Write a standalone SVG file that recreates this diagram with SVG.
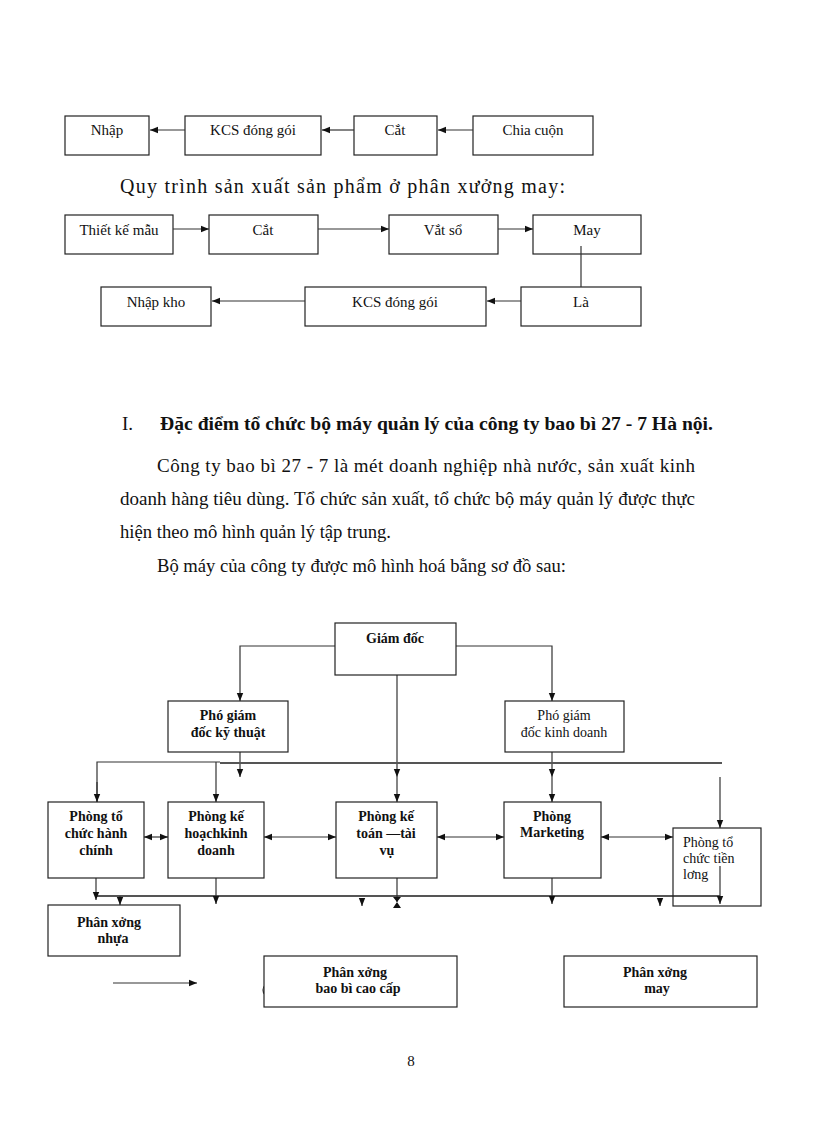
<svg xmlns="http://www.w3.org/2000/svg" width="816" height="1123" viewBox="0 0 816 1123">
<style>
.bx{fill:#fff;stroke:#222;stroke-width:1.2}
.t{font-family:"Liberation Serif",serif;fill:#111}
.f{font-size:15px}
.o{font-size:14px}
.b{font-weight:bold}
.c{text-anchor:middle}
.ln{fill:none;stroke:#333;stroke-width:1.2}
.bus{fill:none;stroke:#555;stroke-width:2.2}
.p{font-size:19px}
</style>
<defs>
<marker id="ah" viewBox="0 0 10 10" refX="10" refY="5" markerWidth="8" markerHeight="8" markerUnits="userSpaceOnUse" orient="auto-start-reverse"><path d="M0,1 L10,5 L0,9 Z" fill="#111"/></marker>
</defs>
<rect width="816" height="1123" fill="#fff"/>

<!-- Flow 1 -->
<g id="n-nhap"><rect class="bx" x="65" y="116" width="84" height="39"/><text class="t f c" x="107" y="135">Nhập</text></g>
<g id="n-kcs1"><rect class="bx" x="185" y="116" width="136" height="39"/><text class="t f c" x="253" y="135">KCS đóng gói</text></g>
<g id="n-cat1"><rect class="bx" x="354" y="116" width="83" height="39"/><text class="t f c" x="395" y="135">Cắt</text></g>
<g id="n-chia"><rect class="bx" x="473" y="116" width="120" height="39"/><text class="t f c" x="533" y="135">Chia cuộn</text></g>

<text class="t" font-size="20" x="120" y="193" textLength="445" lengthAdjust="spacing">Quy trình sản xuất sản phẩm ở phân xưởng may:</text>

<!-- Flow 2 -->
<g id="n-tk"><rect class="bx" x="65" y="215" width="108" height="39"/><text class="t f c" x="119" y="235">Thiết kế mẫu</text></g>
<g id="n-cat2"><rect class="bx" x="209" y="215" width="109" height="39"/><text class="t f c" x="263" y="235">Cắt</text></g>
<g id="n-vat"><rect class="bx" x="389" y="215" width="109" height="39"/><text class="t f c" x="443" y="235">Vắt sổ</text></g>
<g id="n-may"><rect class="bx" x="533" y="215" width="108" height="39"/><text class="t f c" x="587" y="235">May</text></g>
<g id="n-nk"><rect class="bx" x="101" y="287" width="110" height="39"/><text class="t f c" x="156" y="307">Nhập kho</text></g>
<g id="n-kcs2"><rect class="bx" x="305" y="287" width="181" height="39"/><text class="t f c" x="395" y="307">KCS đóng gói</text></g>
<g id="n-la"><rect class="bx" x="521" y="287" width="120" height="39"/><text class="t f c" x="581" y="307">Là</text></g>

<g id="flow-connectors">
<path class="ln" d="M185,130 H150" marker-end="url(#ah)"/>
<path class="ln" d="M354,130 H322" marker-end="url(#ah)"/>
<path class="ln" d="M473,130 H438" marker-end="url(#ah)"/>
<path class="ln" d="M173,229 H209" marker-end="url(#ah)"/>
<path class="ln" d="M318,229 H389" marker-end="url(#ah)"/>
<path class="ln" d="M498,229 H533" marker-end="url(#ah)"/>
<path class="ln" d="M581,246 V287"/>
<path class="ln" d="M521,301 H487" marker-end="url(#ah)"/>
<path class="ln" d="M305,301 H212" marker-end="url(#ah)"/>
</g>

<!-- Text section -->
<text class="t p" x="122" y="430">I.</text>
<text class="t p b" x="160" y="430" textLength="553" lengthAdjust="spacingAndGlyphs">Đặc điểm tổ chức bộ máy quản lý của công ty bao bì 27 - 7 Hà nội.</text>
<text class="t p" x="157" y="472" textLength="538" lengthAdjust="spacing">Công ty bao bì 27 - 7 là mét doanh nghiệp nhà nước, sản xuất kinh</text>
<text class="t p" x="120" y="505" textLength="575" lengthAdjust="spacing">doanh hàng tiêu dùng. Tổ chức sản xuất, tổ chức bộ máy quản lý được thực</text>
<text class="t p" x="120" y="538" textLength="271" lengthAdjust="spacingAndGlyphs">hiện theo mô hình quản lý tập trung.</text>
<text class="t p" x="157" y="572" textLength="409" lengthAdjust="spacingAndGlyphs">Bộ máy của công ty được mô hình hoá bằng sơ đồ sau:</text>

<!-- Org chart -->
<g id="org-connectors">
<path class="ln" d="M335,646 H240 V701" marker-end="url(#ah)"/>
<path class="ln" d="M456,646 H552 V701" marker-end="url(#ah)"/>
<path class="ln" d="M397,667 V777" marker-end="url(#ah)"/>
<path class="ln" d="M397,777 V802" marker-end="url(#ah)"/>
<path class="ln" d="M240,752 V777" marker-end="url(#ah)"/>
<path class="ln" d="M552,752 V777" marker-end="url(#ah)"/>
<path class="ln" d="M552,777 V802" marker-end="url(#ah)"/>
<path class="ln" d="M97,802 V762 H220"/>
<path class="bus" d="M220,763 H722"/>
<path class="ln" d="M97,782 V802" marker-end="url(#ah)"/>
<path class="ln" d="M216,762 V802" marker-end="url(#ah)"/>
<path class="ln" d="M720,777 V828" marker-end="url(#ah)"/>
<path class="ln" d="M144,837 H168" marker-start="url(#ah)" marker-end="url(#ah)"/>
<path class="ln" d="M264,837 H336" marker-start="url(#ah)" marker-end="url(#ah)"/>
<path class="ln" d="M437,837 H504" marker-start="url(#ah)" marker-end="url(#ah)"/>
<path class="ln" d="M601,837 H673" marker-start="url(#ah)" marker-end="url(#ah)"/>
<path class="bus" d="M97,896 H720"/>
<path class="ln" d="M96,866 V900" marker-end="url(#ah)"/>
<path class="ln" d="M120,896 V905" marker-end="url(#ah)"/>
<path class="ln" d="M216,866 V904" marker-end="url(#ah)"/>
<path class="ln" d="M362,898 V906" marker-end="url(#ah)"/>
<path class="ln" d="M397,866 V902"/>
<path d="M393,897 H401 L397,902 Z M393,908 H401 L397,902 Z" fill="#111"/>
<path class="ln" d="M552,866 V904" marker-end="url(#ah)"/>
<path class="ln" d="M660,898 V906" marker-end="url(#ah)"/>
<path class="ln" d="M720,866 V904" marker-end="url(#ah)"/>
<path class="ln" d="M113,983 H197" marker-end="url(#ah)"/>
<path class="ln" d="M265,985 Q261,990 265,995"/>
</g>

<g id="n-gd"><rect class="bx" x="335" y="623" width="121" height="52"/><text class="t o b c" x="395" y="643">Giám đốc</text></g>
<g id="n-pgdkt"><rect class="bx" x="168" y="701" width="120" height="51"/><text class="t o b c" x="228" y="720">Phó giám</text><text class="t o b c" x="228" y="737">đốc kỹ thuật</text></g>
<g id="n-pgdkd"><rect class="bx" x="505" y="701" width="119" height="51"/><text class="t o c" x="564" y="720">Phó giám</text><text class="t o c" x="564" y="737">đốc kinh doanh</text></g>

<g id="n-tchc"><rect class="bx" x="48" y="802" width="96" height="76"/><text class="t o b c" x="96" y="821">Phòng tổ</text><text class="t o b c" x="96" y="838">chức hành</text><text class="t o b c" x="96" y="855">chính</text></g>
<g id="n-khkd"><rect class="bx" x="168" y="802" width="96" height="76"/><text class="t o b c" x="216" y="821">Phòng kế</text><text class="t o b c" x="216" y="838">hoạchkinh</text><text class="t o b c" x="216" y="855">doanh</text></g>
<g id="n-ktt"><rect class="bx" x="336" y="802" width="101" height="76"/><text class="t o b c" x="386" y="821">Phòng kế</text><text class="t o b c" x="386" y="838">toán —tài</text><text class="t o b c" x="387" y="855">vụ</text></g>
<g id="n-mkt"><rect class="bx" x="504" y="802" width="97" height="76"/><text class="t o b c" x="552" y="821">Phòng</text><text class="t o b c" x="552" y="837">Marketing</text></g>
<g id="n-tctl"><rect class="bx" x="673" y="828" width="88" height="78" fill-opacity="0"/><text class="t o" x="683" y="847">Phòng tổ</text><text class="t o" x="683" y="863">chức tiền</text><text class="t o" x="683" y="879">lơng</text></g>

<g id="n-pxn"><rect class="bx" x="48" y="905" width="132" height="51"/><text class="t o b c" x="109" y="927">Phân xởng</text><text class="t o b c" x="113" y="943">nhựa</text></g>
<g id="n-pxbb"><rect class="bx" x="264" y="956" width="193" height="51"/><text class="t o b c" x="355" y="977">Phân xởng</text><text class="t o b c" x="358" y="993">bao bì cao cấp</text></g>
<g id="n-pxm"><rect class="bx" x="564" y="956" width="193" height="51"/><text class="t o b c" x="655" y="977">Phân xởng</text><text class="t o b c" x="657" y="993">may</text></g>

<text class="t" x="411" y="1066" font-size="15" text-anchor="middle">8</text>
</svg>
